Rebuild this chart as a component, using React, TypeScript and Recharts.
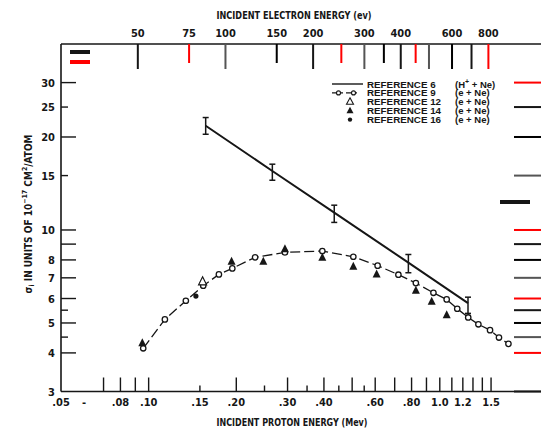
import { ComposedChart, Scatter, XAxis, YAxis, ErrorBar } from "recharts";

const INK = "#161616";
const FONT = '"DejaVu Sans Condensed", "Liberation Sans", sans-serif';
const LEGEND_FONT = '"Liberation Sans", sans-serif';

const CHART_W = 560;
const CHART_H = 429;
const LEFT_W = 61;
const RIGHT_M = 16;
const TOP_H = 44;
const BOTTOM_H = 37.5;
const PLOT_W = CHART_W - LEFT_W - RIGHT_M;
const PLOT_H = CHART_H - TOP_H - BOTTOM_H;

const EV_PER_MEV_PROTON = 1e6 / 1836;

const protonTicks = [0.05, 0.06, 0.07, 0.08, 0.09, 0.1, 0.15, 0.2, 0.25, 0.3, 0.35, 0.4, 0.45, 0.5, 0.55, 0.6, 0.7, 0.8, 0.9, 1.0, 1.1, 1.2, 1.3, 1.4, 1.5];
const protonLabels = [".05", "-", "", ".08", "", ".10", ".15", ".20", "", ".30", "", ".40", "", "", "", ".60", "", ".80", "", "1.0", "", "1.2", "", "", "1.5"];
const protonMinor = [0.15, 0.25, 0.35, 0.45, 0.55];
const protonBlank = [0.05, 0.06];

const electronTicks = [50, 75, 100, 150, 200, 250, 300, 350, 400, 450, 500, 600, 700, 800];
const electronLabels = ["50", "75", "100", "150", "200", "", "300", "", "400", "", "", "600", "", "800"];
const electronMinor = [75, 150, 250, 350, 450];

const sigmaTicks = [3, 4, 4.5, 5, 5.5, 6, 7, 8, 9, 10, 15, 20, 25, 30];
const sigmaLabels = ["3", "4", "", "5", "", "6", "7", "8", "", "10", "15", "20", "25", "30"];
const sigmaMinor = [4.5, 5.5, 15, 25];

const ref6Energy = [0.157, 0.266, 0.434, 0.78, 1.25];
const ref6Sigma = [21.75, 15.52, 11.38, 7.84, 5.8];
const ref6Low = [20.41, 14.49, 10.58, 7.27, 5.37];
const ref6High = [23.12, 16.33, 12.03, 8.33, 6.06];

const ref9Energy = [0.0958, 0.1137, 0.1342, 0.154, 0.1743, 0.1938, 0.2321, 0.2938, 0.395, 0.5047, 0.6116, 0.7208, 0.8276, 0.951, 1.056, 1.148, 1.252, 1.357, 1.488, 1.597, 1.721];
const ref9Sigma = [4.14, 5.135, 5.9, 6.6, 7.18, 7.51, 8.155, 8.46, 8.55, 8.19, 7.665, 7.165, 6.73, 6.26, 5.96, 5.56, 5.21, 4.95, 4.74, 4.485, 4.28];

const ref12Energy = [0.1532];
const ref12Sigma = [6.795];

const ref14Energy = [0.0951, 0.1927, 0.2476, 0.2938, 0.395, 0.5047, 0.6069, 0.8276, 0.938, 1.056];
const ref14Sigma = [4.3, 7.885, 7.885, 8.67, 8.125, 7.6, 7.18, 6.355, 5.855, 5.3];

const ref16Energy = [0.1453];
const ref16Sigma = [6.11];

const pairs = (xs: number[], ys: number[]) => xs.map((x, i) => ({ x, y: ys[i] }));

const ref6Data = ref6Energy.map((x, i) => ({
  x,
  y: ref6Sigma[i],
  err: [ref6Sigma[i] - ref6Low[i], ref6High[i] - ref6Sigma[i]],
}));
const ref9Data = pairs(ref9Energy, ref9Sigma);
const ref12Data = pairs(ref12Energy, ref12Sigma);
const ref14Data = pairs(ref14Energy, ref14Sigma);
const ref16Data = pairs(ref16Energy, ref16Sigma);

const electronAsProton = electronTicks.map((e) => e / EV_PER_MEV_PROTON);
const bottomTicks = [...protonTicks, ...electronAsProton];

const labelStyle = { fontFamily: FONT, fontSize: 11, fontWeight: 700, fill: INK };
const TICK_W = 1.4;
const TEST = [INK, "red", "#555", "#000000"];

const EnergyTick = (props: any) => {
  const x = Number(props.x);
  const y = Number(props.y);
  const v = props.payload.value;
  const j = electronAsProton.indexOf(v);
  if (j >= 0) {
    const len = electronMinor.includes(electronTicks[j]) ? 9 : 15;
    const top = y - PLOT_H;
    return (
      <g>
        <rect x={x - 1} y={top} width={2} height={len + 10} fill={TEST[j % 4]} />
        <text x={x} y={top - 7} textAnchor="middle" {...labelStyle}>{electronLabels[j]}</text>
      </g>
    );
  }
  const i = protonTicks.indexOf(v);
  const len = protonBlank.includes(v) ? 0 : protonMinor.includes(v) ? 6 : 14;
  return (
    <g>
      {len > 0 && <rect x={x - TICK_W / 2} y={y - len} width={TICK_W} height={len} fill={INK} />}
      <text x={x} y={y + 14} textAnchor="middle" {...labelStyle}>{protonLabels[i]}</text>
    </g>
  );
};

const SigmaTick = (props: any) => {
  const x = Number(props.x);
  const y = Number(props.y);
  const v = props.payload.value;
  const i = sigmaTicks.indexOf(v);
  const len = v === 3 ? 0 : sigmaMinor.includes(v) ? 7 : 15;
  return (
    <g>
      {len > 0 && <rect x={x} y={y - TICK_W / 2} width={len} height={TICK_W} fill={INK} />}
      <rect x={x + PLOT_W - 30} y={y - 1} width={30} height={2} fill={TEST[i % 4]} />
      <text x={x - 6} y={y + 4} textAnchor="end" {...labelStyle}>{sigmaLabels[i]}</text>
    </g>
  );
};

const OpenCircle = (props: any) => (
  <circle cx={props.cx} cy={props.cy} r={2.7} fill="#fff" stroke={INK} strokeWidth={1.3} />
);
const FilledTriangle = (props: any) => (
  <path d={`M${props.cx},${props.cy - 5}L${props.cx + 4},${props.cy + 3}L${props.cx - 4},${props.cy + 3}Z`} fill={INK} />
);
const OpenTriangle = (props: any) => (
  <path d={`M${props.cx},${props.cy - 5}L${props.cx + 4},${props.cy + 3}L${props.cx - 4},${props.cy + 3}Z`} fill="#fff" stroke={INK} strokeWidth={1.2} />
);
const Dot = (props: any) => <circle cx={props.cx} cy={props.cy} r={2.6} fill={INK} />;
const NoShape = () => <g />;

const legendRows = [
  { name: "REFERENCE 6", target: "(H", sup: "+", rest: " + Ne)" },
  { name: "REFERENCE 9", target: "(e + Ne)" },
  { name: "REFERENCE 12", target: "(e + Ne)" },
  { name: "REFERENCE 14", target: "(e + Ne)" },
  { name: "REFERENCE 16", target: "(e + Ne)" },
];

const App = () => {
  const rowY = (i: number) => 84 + i * 8.9;
  return (
    <div style={{ position: "absolute", left: 0, top: 0, width: 541, height: 429, overflow: "hidden", background: "#fff" }}>
      <ComposedChart width={CHART_W} height={CHART_H} margin={{ top: 0, right: RIGHT_M, bottom: 0, left: 0 }}>
        <XAxis
          xAxisId="bottom"
          orientation="bottom"
          type="number"
          dataKey="x"
          scale="log"
          domain={[0.05, 2.28]}
          allowDataOverflow
          ticks={bottomTicks}
          interval={0}
          tickSize={0}
          tickMargin={0}
          tickLine={false}
          tick={<EnergyTick />}
          height={BOTTOM_H}
          axisLine={{ stroke: INK, strokeWidth: 1.6 }}
        />
        <XAxis
          xAxisId="top"
          orientation="top"
          type="number"
          scale="log"
          domain={[0.05 * EV_PER_MEV_PROTON, 2.28 * EV_PER_MEV_PROTON]}
          allowDataOverflow
          tick={false}
          tickLine={false}
          height={TOP_H}
          axisLine={{ stroke: INK, strokeWidth: 1.6 }}
        />
        <YAxis
          yAxisId="left"
          type="number"
          dataKey="y"
          scale="log"
          domain={[3, 40]}
          allowDataOverflow
          ticks={sigmaTicks}
          interval={0}
          tickSize={0}
          tickMargin={0}
          tickLine={false}
          tick={<SigmaTick />}
          width={LEFT_W}
          axisLine={{ stroke: INK, strokeWidth: 1.6 }}
        />
        <Scatter xAxisId="bottom" yAxisId="left" data={ref6Data} line={{ stroke: INK, strokeWidth: 2 }} lineType="joint" shape={<NoShape />} isAnimationActive={false}>
          <ErrorBar dataKey="err" direction="y" width={3} stroke={INK} strokeWidth={1.5} isAnimationActive={false} />
        </Scatter>
        <Scatter xAxisId="bottom" yAxisId="left" data={ref9Data} line={{ stroke: INK, strokeWidth: 1.3, strokeDasharray: "10 4" }} lineType="joint" shape={<OpenCircle />} isAnimationActive={false} />
        <Scatter xAxisId="bottom" yAxisId="left" data={ref14Data} shape={<FilledTriangle />} isAnimationActive={false} />
        <Scatter xAxisId="bottom" yAxisId="left" data={ref12Data} shape={<OpenTriangle />} isAnimationActive={false} />
        <Scatter xAxisId="bottom" yAxisId="left" data={ref16Data} shape={<Dot />} isAnimationActive={false} />
      </ComposedChart>
      <svg width={541} height={429} style={{ position: "absolute", left: 0, top: 0, pointerEvents: "none" }}>
        <rect x={70} y={50} width={20} height={4} fill={INK} />
        <rect x={70} y={60} width={20} height={4} fill="red" />
        <rect x={500} y={200} width={30} height={4} fill={INK} />
        <text x={294} y={19} textAnchor="middle" textLength={155} lengthAdjust="spacingAndGlyphs" {...labelStyle}>
          INCIDENT ELECTRON ENERGY (ev)
        </text>
        <text x={292} y={426} textAnchor="middle" textLength={151} lengthAdjust="spacingAndGlyphs" {...labelStyle}>
          INCIDENT PROTON ENERGY (Mev)
        </text>
        <text transform="translate(32,214) rotate(-90)" textAnchor="middle" {...labelStyle} fontSize={10}>
          σ<tspan dy={2} fontSize={7}>i</tspan>
          <tspan dy={-2}> IN UNITS OF 10</tspan>
          <tspan dy={-5} fontSize={7}>−17</tspan>
          <tspan dy={5}> CM</tspan>
          <tspan dy={-5} fontSize={7}>2</tspan>
          <tspan dy={5}>/ATOM</tspan>
        </text>
        <g>
          <line x1={332} y1={rowY(0)} x2={363} y2={rowY(0)} stroke={INK} strokeWidth={1.4} />
          <line x1={332} y1={rowY(1)} x2={359} y2={rowY(1)} stroke={INK} strokeWidth={1.2} strokeDasharray="11 3" />
          <circle cx={338.5} cy={rowY(1)} r={2} fill="#fff" stroke={INK} strokeWidth={1.1} />
          <circle cx={353.5} cy={rowY(1)} r={2} fill="#fff" stroke={INK} strokeWidth={1.1} />
          <path d={`M350,${rowY(2) - 4}L353.5,${rowY(2) + 2.5}L346.5,${rowY(2) + 2.5}Z`} fill="#fff" stroke={INK} strokeWidth={1.1} />
          <path d={`M350,${rowY(3) - 4}L353.5,${rowY(3) + 2.5}L346.5,${rowY(3) + 2.5}Z`} fill={INK} />
          <circle cx={350} cy={rowY(4)} r={2.2} fill={INK} />
          {legendRows.map((row, i) => (
            <g key={row.name}>
              <text x={367} y={rowY(i) + 3.5} fontFamily={LEGEND_FONT} fontSize={9.8} fontWeight={700} fill={INK}>{row.name}</text>
              <text x={455} y={rowY(i) + 3.5} fontFamily={LEGEND_FONT} fontSize={9.5} fontWeight={700} fill={INK}>
                {row.target}
                {row.sup && <tspan dy={-4} fontSize={7}>{row.sup}</tspan>}
                {row.rest && <tspan dy={4}>{row.rest}</tspan>}
              </text>
            </g>
          ))}
        </g>
      </svg>
    </div>
  );
};

export default App;
